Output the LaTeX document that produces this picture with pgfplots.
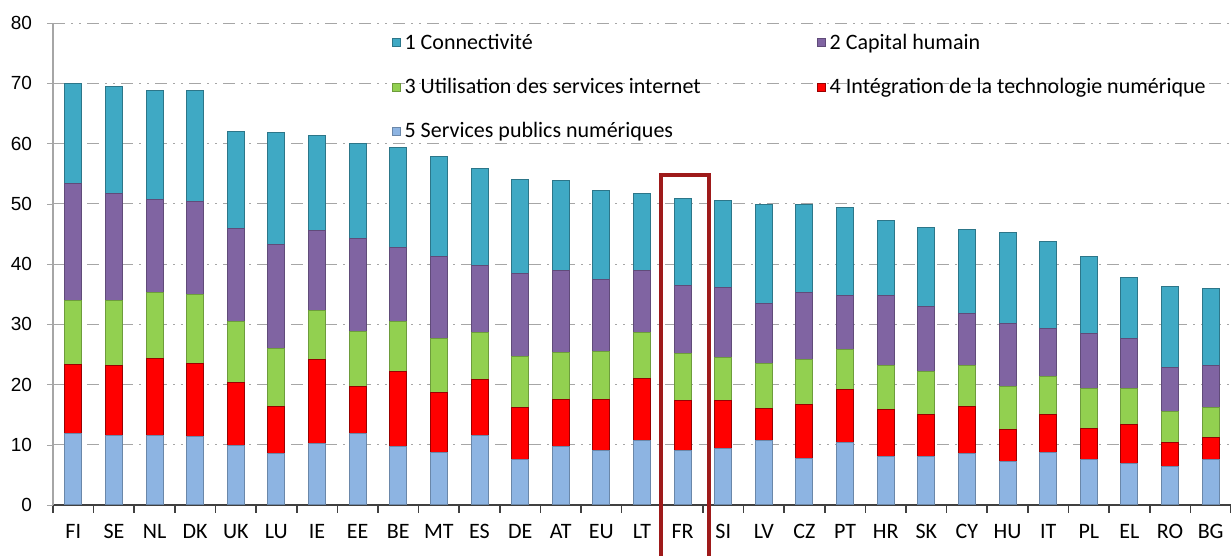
\documentclass[border=0pt]{standalone}
\usepackage{fontspec}
\setmainfont{Carlito}
\newfontfamily\arialfont{Liberation Sans}
\usepackage{pgfplots}
\usepackage{pgfplotstable}
\pgfplotsset{compat=1.18}

\definecolor{cConn}{HTML}{3FA9C4}
\definecolor{cHum}{HTML}{8064A2}
\definecolor{cUse}{HTML}{92D050}
\definecolor{cInt}{HTML}{FF0000}
\definecolor{cPub}{HTML}{8DB4E2}
\definecolor{boxRed}{HTML}{9E1A1A}

% DESI scores by component: 5 publics, 4 integration, 3 internet, 2 humain, 1 connectivite
\pgfplotstableread{
x  pays pub  int  use  hum  con
0  FI   11.9 11.5 10.5 19.4 16.6
1  SE   11.5 11.6 10.8 17.8 17.8
2  NL   11.5 12.8 11.0 15.4 18.1
3  DK   11.3 12.2 11.5 15.4 18.4
4  UK   9.9  10.5 10.0 15.5 16.1
5  LU   8.6  7.8  9.5  17.4 18.5
6  IE   10.2 14.0 8.1  13.2 15.8
7  EE   11.8 7.8  9.2  15.5 15.7
8  BE   9.7  12.5 8.2  12.3 16.6
9  MT   8.7  10.0 9.0  13.6 16.6
10 ES   11.5 9.3  7.9  11.0 16.2
11 DE   7.5  8.7  8.5  13.7 15.7
12 AT   9.7  7.8  7.8  13.7 14.8
13 EU   9.0  8.5  8.0  12.0 14.7
14 LT   10.7 10.3 7.7  10.3 12.7
15 FR   9.1  8.3  7.7  11.4 14.3
16 SI   9.4  8.0  7.0  11.7 14.5
17 LV   10.7 5.3  7.5  10.0 16.3
18 CZ   7.8  8.8  7.6  11.0 14.7
19 PT   10.3 8.9  6.6  8.9  14.6
20 HR   8.0  7.8  7.4  11.5 12.6
21 SK   8.0  7.1  7.0  10.9 13.0
22 CY   8.5  7.8  6.9  8.6  13.9
23 HU   7.3  5.3  7.0  10.5 15.1
24 IT   8.7  6.4  6.2  8.0  14.4
25 PL   7.6  5.1  6.6  9.2  12.8
26 EL   6.9  6.5  5.9  8.4  10.1
27 RO   6.4  3.9  5.2  7.4  13.3
28 BG   7.6  3.6  5.0  6.9  12.9
}\desi

\begin{document}
\begin{tikzpicture}
\begin{axis}[
    scale only axis,
    width=589pt, height=241pt,
    xmin=-0.5, xmax=28.5,
    ymin=0, ymax=80,
    ybar stacked,
    bar width=8.5pt,
    clip=false,
    axis x line*=bottom,
    axis y line*=left,
    x axis line style={draw=black!75, line width=0.9pt},
    y axis line style={draw=black!35, line width=0.6pt},
    xtick={0,...,28},
    xticklabels from table={\desi}{pays},
    major x tick style={draw=none},
    minor xtick={-0.5,0.5,...,28.5},
    minor x tick style={draw=black!75, line width=0.8pt},
    minor tick length=4pt,
    tick align=outside,
    ytick={0,10,...,80},
    major y tick style={draw=black!35},
    major tick length=3pt,
    ymajorgrids,
    grid style={draw=black!35, line width=0.5pt,
        dash pattern=on 6pt off 3pt on 1pt off 3pt on 1pt off 3pt},
    /pgf/number format/assume math mode=true,
    xticklabel style={font=\fontsize{11}{13}\selectfont, yshift=-3pt},
    yticklabel style={font=\arialfont\fontsize{9.5}{11}\selectfont, xshift=-4pt},
    every axis plot/.append style={line width=0.5pt},
    reverse legend,
    legend columns=2,
    legend style={
        at={(0.282,0.995)}, anchor=north west,
        draw=none, fill=none,
        font=\fontsize{11}{13}\selectfont,
        row sep=9pt,
        /tikz/every even column/.append style={column sep=56pt},
    },
    legend cell align=left,
    legend image code/.code={
        \draw[#1] (0pt,-2pt) rectangle (4pt,2pt);
    },
]
\addplot[fill=cPub, draw=cPub!75!black] table[x=x, y=pub] {\desi};
\addplot[fill=cInt, draw=cInt!60!black] table[x=x, y=int] {\desi};
\addplot[fill=cUse, draw=cUse!75!black] table[x=x, y=use] {\desi};
\addplot[fill=cHum, draw=cHum!75!black] table[x=x, y=hum] {\desi};
\addplot[fill=cConn, draw=cConn!70!black] table[x=x, y=con] {\desi};
\legend{5 Services publics numériques,
        4 Intégration de la technologie numérique,
        3 Utilisation des services internet,
        2 Capital humain,
        1 Connectivité}

% encadré France
\draw[boxRed, line width=2pt] (axis cs:14.46,-12) -- (axis cs:14.46,54.8)
    -- (axis cs:15.64,54.8) -- (axis cs:15.64,-12);
\end{axis}
\pgfresetboundingbox
\path[use as bounding box] (-26.5pt,-25.5pt) rectangle (589pt,252.5pt);
\end{tikzpicture}
\end{document}
